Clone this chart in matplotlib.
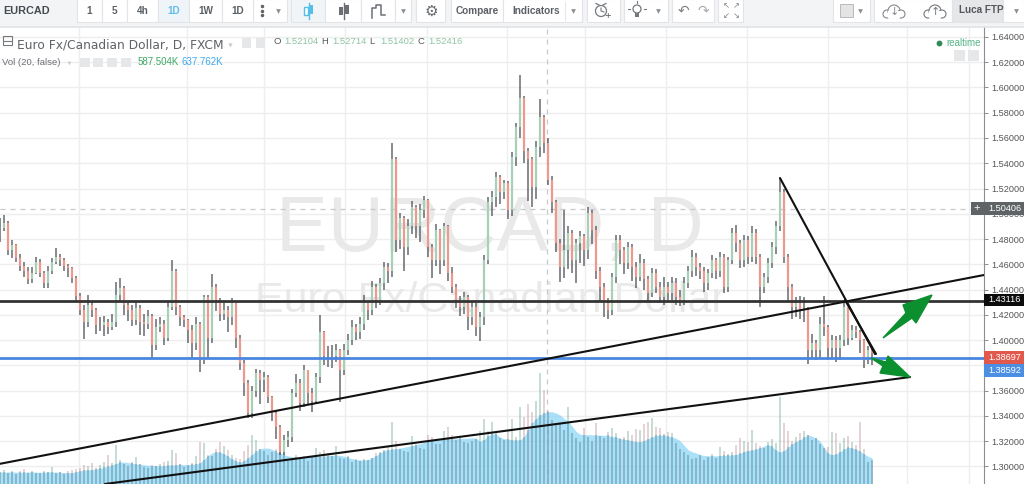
#!/usr/bin/env python3
# EURCAD daily chart screenshot, toolbar and all
import matplotlib
matplotlib.use('Agg')
import matplotlib.pyplot as plt
from matplotlib.patches import Rectangle, Polygon, Circle

closes = [
    1.489, 1.493, 1.471, 1.475, 1.465, 1.459, 1.455, 1.448, 1.453, 1.462,
    1.453, 1.445, 1.455, 1.462, 1.466, 1.463, 1.459, 1.457, 1.449, 1.435,
    1.424, 1.414, 1.428, 1.424, 1.412, 1.412, 1.414, 1.410, 1.414, 1.436,
    1.441, 1.428, 1.424, 1.416, 1.425, 1.414, 1.413, 1.419, 1.396, 1.410,
    1.413, 1.402, 1.426, 1.455, 1.426, 1.418, 1.416, 1.408, 1.398, 1.413,
    1.384, 1.434, 1.402, 1.442, 1.432, 1.421, 1.424, 1.418, 1.429, 1.402,
    1.382, 1.366, 1.342, 1.360, 1.374, 1.368, 1.371, 1.355, 1.342, 1.331,
    1.311, 1.321, 1.323, 1.358, 1.366, 1.350, 1.376, 1.358, 1.352, 1.371,
    1.406, 1.387, 1.387, 1.387, 1.392, 1.376, 1.392, 1.400, 1.410, 1.406,
    1.413, 1.429, 1.424, 1.442, 1.432, 1.445, 1.458, 1.455, 1.543, 1.479,
    1.497, 1.474, 1.490, 1.505, 1.490, 1.503, 1.511, 1.474, 1.463, 1.487,
    1.463, 1.490, 1.453, 1.442, 1.432, 1.426, 1.434, 1.418, 1.426, 1.410,
    1.418, 1.463, 1.509, 1.513, 1.529, 1.517, 1.524, 1.503, 1.545, 1.569,
    1.592, 1.550, 1.543, 1.521, 1.553, 1.577, 1.556, 1.527, 1.509, 1.477,
    1.458, 1.471, 1.485, 1.463, 1.477, 1.482, 1.471, 1.501, 1.487, 1.455,
    1.442, 1.429, 1.424, 1.450, 1.479, 1.471, 1.461, 1.474, 1.458, 1.450,
    1.461, 1.448, 1.437, 1.453, 1.442, 1.434, 1.442, 1.437, 1.445, 1.434,
    1.432, 1.445, 1.455, 1.466, 1.458, 1.455, 1.445, 1.453, 1.463, 1.455,
    1.466, 1.442, 1.463, 1.485, 1.477, 1.463, 1.479, 1.466, 1.485, 1.466,
    1.442, 1.450, 1.461, 1.474, 1.490, 1.517, 1.466, 1.442, 1.426, 1.429,
    1.424, 1.424, 1.392, 1.398, 1.392, 1.413, 1.410, 1.394, 1.400, 1.394,
    1.400, 1.426, 1.402, 1.408, 1.406, 1.400, 1.384, 1.392, 1.390,
]
highs = [
    1.497, 1.499, 1.494, 1.479, 1.476, 1.468, 1.462, 1.458, 1.458, 1.466,
    1.464, 1.455, 1.459, 1.465, 1.473, 1.468, 1.465, 1.460, 1.458, 1.451,
    1.437, 1.428, 1.436, 1.431, 1.425, 1.418, 1.419, 1.417, 1.421, 1.446,
    1.449, 1.443, 1.431, 1.428, 1.431, 1.428, 1.421, 1.424, 1.421, 1.417,
    1.418, 1.416, 1.431, 1.463, 1.456, 1.428, 1.420, 1.417, 1.412, 1.418,
    1.414, 1.436, 1.436, 1.452, 1.444, 1.433, 1.431, 1.427, 1.433, 1.431,
    1.404, 1.384, 1.368, 1.364, 1.377, 1.376, 1.375, 1.372, 1.356, 1.344,
    1.333, 1.325, 1.328, 1.361, 1.373, 1.369, 1.380, 1.376, 1.362, 1.374,
    1.420, 1.407, 1.395, 1.396, 1.397, 1.393, 1.397, 1.405, 1.416, 1.413,
    1.418, 1.436, 1.431, 1.447, 1.444, 1.449, 1.462, 1.461, 1.556, 1.545,
    1.501, 1.498, 1.496, 1.510, 1.507, 1.508, 1.514, 1.512, 1.476, 1.492,
    1.488, 1.493, 1.491, 1.458, 1.444, 1.435, 1.438, 1.436, 1.430, 1.429,
    1.422, 1.467, 1.513, 1.518, 1.533, 1.531, 1.527, 1.526, 1.549, 1.572,
    1.610, 1.593, 1.552, 1.545, 1.558, 1.591, 1.578, 1.560, 1.530, 1.511,
    1.480, 1.503, 1.490, 1.487, 1.480, 1.486, 1.484, 1.505, 1.503, 1.490,
    1.458, 1.445, 1.433, 1.453, 1.483, 1.483, 1.474, 1.478, 1.476, 1.462,
    1.468, 1.464, 1.451, 1.457, 1.456, 1.446, 1.450, 1.446, 1.450, 1.449,
    1.440, 1.450, 1.459, 1.471, 1.469, 1.461, 1.458, 1.456, 1.467, 1.465,
    1.470, 1.468, 1.466, 1.489, 1.491, 1.479, 1.483, 1.482, 1.490, 1.488,
    1.468, 1.453, 1.465, 1.478, 1.494, 1.528, 1.520, 1.468, 1.444, 1.434,
    1.435, 1.434, 1.426, 1.405, 1.400, 1.418, 1.435, 1.412, 1.404, 1.403,
    1.404, 1.430, 1.426, 1.412, 1.411, 1.408, 1.401, 1.395, 1.394,
]
lows = [
    1.478, 1.486, 1.467, 1.465, 1.462, 1.455, 1.450, 1.444, 1.445, 1.452,
    1.450, 1.441, 1.441, 1.452, 1.460, 1.459, 1.455, 1.450, 1.445, 1.431,
    1.420, 1.401, 1.410, 1.418, 1.405, 1.407, 1.403, 1.405, 1.408, 1.410,
    1.431, 1.420, 1.415, 1.411, 1.412, 1.404, 1.403, 1.409, 1.385, 1.392,
    1.406, 1.396, 1.399, 1.424, 1.420, 1.411, 1.410, 1.398, 1.385, 1.392,
    1.375, 1.381, 1.386, 1.398, 1.423, 1.415, 1.416, 1.406, 1.412, 1.394,
    1.376, 1.356, 1.338, 1.338, 1.355, 1.349, 1.359, 1.350, 1.336, 1.322,
    1.309, 1.309, 1.315, 1.319, 1.355, 1.344, 1.347, 1.349, 1.343, 1.349,
    1.366, 1.380, 1.379, 1.378, 1.383, 1.351, 1.372, 1.388, 1.396, 1.400,
    1.401, 1.408, 1.416, 1.420, 1.425, 1.428, 1.440, 1.445, 1.450, 1.470,
    1.472, 1.455, 1.467, 1.484, 1.481, 1.478, 1.497, 1.466, 1.449, 1.459,
    1.452, 1.459, 1.447, 1.437, 1.425, 1.419, 1.421, 1.408, 1.412, 1.403,
    1.399, 1.412, 1.460, 1.498, 1.505, 1.508, 1.512, 1.496, 1.498, 1.538,
    1.560, 1.540, 1.510, 1.505, 1.512, 1.545, 1.548, 1.523, 1.501, 1.470,
    1.446, 1.449, 1.456, 1.453, 1.445, 1.461, 1.459, 1.464, 1.476, 1.448,
    1.431, 1.418, 1.417, 1.420, 1.445, 1.460, 1.452, 1.456, 1.447, 1.441,
    1.447, 1.440, 1.430, 1.434, 1.437, 1.429, 1.428, 1.431, 1.432, 1.428,
    1.427, 1.428, 1.441, 1.450, 1.451, 1.448, 1.438, 1.440, 1.449, 1.448,
    1.450, 1.437, 1.438, 1.460, 1.470, 1.457, 1.458, 1.460, 1.462, 1.460,
    1.426, 1.437, 1.445, 1.457, 1.468, 1.486, 1.461, 1.431, 1.417, 1.418,
    1.417, 1.414, 1.381, 1.385, 1.384, 1.386, 1.403, 1.384, 1.386, 1.383,
    1.384, 1.395, 1.396, 1.400, 1.402, 1.390, 1.378, 1.381, 1.380,
]
# volume in thousands
volumes = [
    300, 340, 270, 310, 250, 330, 360, 260, 310, 280,
    270, 330, 300, 420, 260, 290, 240, 320, 340, 360,
    380, 470, 440, 520, 400, 460, 530, 710, 520, 960,
    600, 480, 440, 540, 660, 500, 420, 390, 470, 430,
    480, 530, 560, 830, 760, 500, 420, 470, 520, 690,
    1030, 1000, 720, 680, 860, 1030, 940, 840, 700, 640,
    620, 800, 960, 1200, 1080, 860, 820, 700, 780, 850,
    950, 800, 560, 640, 720, 620, 680, 570, 660, 880,
    780, 840, 760, 690, 920, 640, 610, 680, 550, 620,
    560, 620, 580, 640, 760, 780, 830, 900, 1520, 1050,
    860, 800, 790, 1180, 980, 880, 860, 1210, 1150, 970,
    980, 1310, 1390, 1200, 1090, 1120, 1040, 1000, 1060, 1100,
    1300, 1590, 1300, 1520, 1250, 1120, 1090, 1300, 1590, 1140,
    1880, 1640, 1950, 1770, 2040, 2720, 2300, 1780, 1560, 1450,
    1500, 1320, 1880, 1260, 1120, 1040, 1370, 1150, 1050, 1490,
    1180, 1130, 1270, 1380, 1240, 1120, 1150, 1300, 1210, 1340,
    1320, 1470, 1520, 1620, 1400, 1380, 1230, 1280, 1250, 1000,
    850, 780, 700, 620, 640, 700, 600, 650, 730, 640,
    900, 820, 730, 790, 950, 1120, 1060, 1020, 1330, 1000,
    920, 880, 1040, 1110, 1000, 2130, 1490, 1290, 1060, 1150,
    1240, 1300, 1200, 1080, 1120, 980, 870, 900, 1270, 1240,
    1000, 1120, 1180, 1020, 950, 1510, 850, 530, 590,
]
volume_ma = [
    290, 290, 295, 295, 290, 285, 290, 295, 295, 290,
    285, 285, 290, 295, 290, 285, 280, 275, 280, 295,
    320, 340, 345, 355, 365, 385, 405, 430, 460, 500,
    540, 535, 525, 505, 490, 480, 470, 460, 450, 445,
    440, 445, 455, 460, 470, 480, 475, 470, 480, 490,
    520, 600, 690, 760, 790, 780, 740, 680, 620, 570,
    530, 570, 640, 720, 800, 860, 880, 880, 850, 800,
    750, 720, 690, 670, 650, 650, 665, 680, 690, 680,
    670, 680, 695, 705, 710, 700, 680, 650, 620, 600,
    590, 585, 600, 640, 690, 760, 810, 840, 850, 860,
    880, 900, 920, 940, 960, 990, 1020, 1050, 1070, 1080,
    1085, 1090, 1100, 1105, 1110, 1115, 1120, 1125, 1130, 1130,
    1040, 1090, 1180, 1230, 1220, 1150, 1110, 1100, 1080, 1075,
    1080, 1150, 1330, 1500, 1600, 1690, 1740, 1770, 1770, 1740,
    1690, 1610, 1530, 1420, 1290, 1220, 1210, 1210, 1205, 1200,
    1195, 1195, 1190, 1160, 1150, 1110, 1095, 1080, 1060, 1040,
    1030, 1060, 1110, 1150, 1190, 1200, 1190, 1170, 1150, 1120,
    1060, 950, 840, 790, 760, 720, 700, 690, 690, 690,
    695, 700, 705, 710, 720, 750, 790, 820, 830, 850,
    890, 930, 960, 920, 830, 780, 820, 900, 980, 1040,
    1080, 1150, 1200, 1170, 1120, 1050, 900, 760, 720, 730,
    790, 850, 900, 880, 850, 800, 740, 680, 640,
]

price_ticks = [1.64, 1.62, 1.60, 1.58, 1.56, 1.54, 1.52, 1.50, 1.48, 1.46,
               1.44, 1.42, 1.40, 1.36, 1.34, 1.32, 1.30]
# 1.38 is under the last price tags, so only its grid line shows
grid_levels = price_ticks + [1.38]
grid_bars = [19.75, 46.75, 66, 86.25, 106.75, 126.75, 146.25, 166.5, 186.75, 207, 226.75, 242.25]
support_level = 1.38592
resistance_level = 1.43116
last_level = 1.38697
crosshair_level = 1.50406
crosshair_bar = 136.75
# hand drawn lines on the chart, (bar, price) ends
trend_lines = [
    ([0, 246], [1.302, 1.4515]),
    ([26.25, 227.5], [1.286, 1.3707]),
    ([195, 218.75], [1.5283, 1.3889]),
    ([211.25, 219], [1.4317, 1.389]),
]

WIDTH, HEIGHT = 1024, 484
AXIS_X, TOP_Y = 984, 27
PRICE_LOW, PRICE_HIGH = 1.2860, 1.6479

fig = plt.figure(figsize=(WIDTH / 100, HEIGHT / 100), dpi=100, facecolor='white')
plt.rcParams['font.family'] = ['Liberation Sans', 'DejaVu Sans']

# three layers: grid and watermark, then volume, then candles and drawings
ax = fig.add_axes([0, 0, AXIS_X / WIDTH, (HEIGHT - TOP_Y) / HEIGHT])
vol_ax = ax.twinx()
price_ax = ax.twinx()
ax.set_xlim(0, AXIS_X / 4)
ax.set_ylim(PRICE_LOW, PRICE_HIGH)
price_ax.set_ylim(PRICE_LOW, PRICE_HIGH)
vol_ax.set_ylim(0, (HEIGHT - TOP_Y) * 24.5)
vol_ax.axis('off')
price_ax.axis('off')
for side in ['top', 'left', 'bottom']:
    ax.spines[side].set_visible(False)
ax.spines['right'].set_color('#8a8e94')
ax.yaxis.tick_right()
ax.set_yticks(price_ticks)
ax.set_yticklabels(['%.5f' % t for t in price_ticks], fontsize=6.6, color='#555555')
ax.tick_params(axis='y', length=3, width=0.7, color='#8a8e94', pad=2)
ax.set_xticks([])
for t in grid_levels:
    ax.axhline(t, color='#eeeeef', lw=1, zorder=0)
for b in grid_bars:
    ax.axvline(b, color='#eeeeef', lw=1, zorder=0)

# watermark sits behind the candles
ax.text(122.5, 1.4865, 'EURCAD, D', fontsize=56, color='#e9e9ea', ha='center', va='center', zorder=1)
ax.text(122.5, 1.431, 'Euro Fx/Canadian Dollar', fontsize=31, color='#e9e9ea', ha='center', va='center', zorder=1)

ax.axhline(crosshair_level, color='#c6c8cb', lw=0.9, ls=(0, (4, 4)), zorder=1)
ax.axvline(crosshair_bar, color='#c6c8cb', lw=0.9, ls=(0, (4, 4)), zorder=1)

bars = list(range(len(closes)))
opens = [closes[0]] + closes[:-1]
up = [c >= o for c, o in zip(closes, opens)]

# bars stay pale above the average line and go teal where the blue area covers them
vol_colors = ['#5a9e8c' if u else '#b5838a' for u in up]
vol_ax.bar(bars, volumes, width=0.7, color=vol_colors, alpha=0.35, lw=0, zorder=2)
vol_ax.fill_between(bars, volume_ma, color='#7fd0f7', alpha=0.65, lw=0, zorder=3)
covered = [min(v, m) for v, m in zip(volumes, volume_ma)]
vol_ax.bar(bars, covered, width=0.7, color='#5f8fa0', alpha=0.4, lw=0, zorder=4)

# candles
price_ax.vlines(bars, lows, highs, color='#4c5054', lw=1.1, alpha=0.85, zorder=4)
body_colors = ['#a8cfb8' if u else '#ec9a90' for u in up]
price_ax.vlines(bars, opens, closes, color=body_colors, lw=1.6, zorder=5)

price_ax.axhline(resistance_level, color='#333333', lw=2.0, zorder=6)
price_ax.axhline(support_level, color='#4a86e0', lw=2.0, zorder=6)
for line_x, line_y in trend_lines:
    price_ax.plot(line_x, line_y, color='#111111', lw=1.5, zorder=7, solid_capstyle='round')

# screen overlay in pixels: toolbar, header text, arrows, price tags
top = fig.add_axes([0, 0, 1, 1], facecolor='none')
top.set_zorder(10)
top.set_xlim(0, WIDTH)
top.set_ylim(HEIGHT, 0)
top.axis('off')

ARROW_GREEN = '#0b8f2f'
top.add_patch(Polygon([(883, 338), (906, 313), (903, 305), (932, 295), (916, 323), (912, 318)],
                      color=ARROW_GREEN, zorder=8))
top.add_patch(Polygon([(871, 358), (886, 362), (888, 356), (910, 377), (880, 373), (883, 366)],
                      color=ARROW_GREEN, zorder=8))


def tag(y0, y1, color, label, x0=984):
    top.add_patch(Rectangle((x0, y0), WIDTH - x0, y1 - y0, color=color, lw=0, zorder=9))
    top.text(1005, (y0 + y1) / 2, label, color='white', fontsize=6.6, ha='center', va='center', zorder=10)


tag(202, 215, '#606366', '1.50406', x0=971)
top.text(977, 208.5, '+', color='white', fontsize=8, ha='center', va='center', zorder=10)
tag(294, 306, '#0c0c0c', '%.5f' % resistance_level)
tag(351, 364, '#e0594c', '%.5f' % last_level)
tag(364, 377, '#4a8fe4', '%.5f' % support_level)

# toolbar
top.add_patch(Rectangle((0, 0), WIDTH, 26, color='#f3f4f6', lw=0))
top.plot([0, WIDTH], [26.5, 26.5], color='#dfe1e4', lw=1.2)


def button(x0, x1, fill='white', y1=22):
    top.add_patch(Rectangle((x0, -1), x1 - x0, y1 + 1, facecolor=fill, edgecolor='#e2e4e7', lw=0.8))


def arrow_down(x, y=11):
    top.plot([x], [y], marker='v', ms=3.4, color='#8b8f94', mew=0)


def cloud(x, arrow, color):
    for dx, dy, r in [(-7, 3, 4), (0, 0, 6), (7, 3, 4)]:
        top.add_patch(Circle((x + dx, 11 + dy), r, facecolor='white', edgecolor=color, lw=0.8))
    top.add_patch(Rectangle((x - 6, 11), 12, 6.5, color='white', lw=0))
    top.text(x, 12, arrow, fontsize=8, ha='center', va='center', color=color, family='DejaVu Sans')


top.text(3, 11, 'EURCAD', fontsize=7.8, fontweight='bold', color='#454a50', va='center')
button(77, 287)
for x0, x1, label in [(77, 102, '1'), (102, 127, '5'), (127, 158, '4h'), (158, 189, '1D'),
                      (189, 222, '1W'), (222, 253, '1D')]:
    if label == '1D' and x0 == 158:
        button(x0, x1, fill='#eef4f8')
    else:
        button(x0, x1)
    top.text((x0 + x1) / 2, 10.5, label, fontsize=7.2, fontweight='bold', ha='center', va='center',
             color='#63bde6' if x0 == 158 else '#5b6066')
top.plot([262, 262, 262], [6, 11, 15], ls='', marker='o', ms=1.5, color='#60656a')
arrow_down(278)

button(291, 325, fill='#f1f5f8')
button(325, 361)
button(361, 395)
button(395, 411)
arrow_down(403)
top.plot([309, 309], [3, 19], color='#54bde8', lw=1)
top.add_patch(Rectangle((304, 7), 3.5, 8, facecolor='white', edgecolor='#54bde8', lw=1))
top.add_patch(Rectangle((309.5, 5), 3.5, 9, color='#54bde8', lw=0))
top.plot([344, 344], [3, 19], color='#6b6f74', lw=1)
top.add_patch(Rectangle((338.5, 7), 4, 8, color='#6b6f74', lw=0))
top.add_patch(Rectangle((345, 5), 4, 9, color='#6b6f74', lw=0))
top.plot([372, 372, 376, 376, 381, 381, 385], [18, 8, 8, 5, 5, 15, 15], color='#6b6f74', lw=1.1)
button(416, 445)
top.text(431, 11, '\u2699', fontsize=11, ha='center', va='center', color='#666a6f', family='DejaVu Sans')
button(451, 503)
top.text(477, 10.5, 'Compare', fontsize=7.2, fontweight='bold', ha='center', va='center', color='#5b6066')
button(503, 582)
top.text(536, 10.5, 'Indicators', fontsize=7.2, fontweight='bold', ha='center', va='center', color='#5b6066')
top.plot([565, 565], [2, 20], color='#e6e7ea', lw=0.8)
arrow_down(573)
button(587, 620)
# alarm clock with a plus
top.add_patch(Circle((601, 11), 5.5, facecolor='white', edgecolor='#75797e', lw=0.9))
top.plot([601, 601, 604], [8, 11, 12], color='#75797e', lw=0.8)
top.plot([596, 599], [3.5, 5], color='#75797e', lw=0.9)
top.plot([603, 606], [5, 3.5], color='#75797e', lw=0.9)
top.text(608, 15.5, '+', fontsize=8, ha='center', va='center', color='#55595e')
button(624, 668)
# light bulb
top.add_patch(Circle((637, 9), 4, facecolor='white', edgecolor='#75797e', lw=0.9))
top.add_patch(Rectangle((635, 13), 4, 4, color='#75797e', lw=0))
top.plot([630, 628], [9, 9], color='#75797e', lw=0.8)
top.plot([644, 646], [9, 9], color='#75797e', lw=0.8)
top.plot([637, 637], [2.5, 0.5], color='#75797e', lw=0.8)
arrow_down(658)
button(672, 714)
top.text(683, 11, '\u21b6', fontsize=10, ha='center', va='center', color='#7d8185', family='DejaVu Sans')
top.text(703, 11, '\u21b7', fontsize=10, ha='center', va='center', color='#a8abae', family='DejaVu Sans')
button(718, 743)
# fullscreen corners
for cx, cy, mark in [(726, 6, '\u2196'), (736, 6, '\u2197'), (726, 16, '\u2199'), (736, 16, '\u2198')]:
    top.text(cx, cy, mark, fontsize=6, ha='center', va='center', color='#7d8185', family='DejaVu Sans')
button(833, 870)
top.add_patch(Rectangle((840, 4), 13, 13, facecolor='#e4e4e4', edgecolor='#b8babd', lw=0.7))
arrow_down(860)
button(874, 952)
cloud(894, '\u2193', '#85898d')
cloud(935, '\u2191', '#75797e')
button(952, 1003, fill='#e6e7e9')
top.text(981, 10, 'Luca FTP', fontsize=7.2, fontweight='bold', ha='center', va='center', color='#55595e')
button(1003, 1024)
arrow_down(1016)

# legend lines top left
top.add_patch(Rectangle((2.5, 36), 9, 9, facecolor='none', edgecolor='#777b80', lw=0.8))
top.plot([4, 10.5], [40.5, 40.5], color='#777b80', lw=0.8)
top.text(17, 44.5, 'Euro Fx/Canadian Dollar, D, FXCM', fontsize=8.8, color='#5f6368', va='center',
         family=['DejaVu Sans'])
top.plot([230], [44.5], marker='v', ms=3, color='#c9cbce', mew=0)
for x0 in [242, 256]:
    top.add_patch(Rectangle((x0, 38), 9, 10, color='#e6e7e8', lw=0))
x_pos = 273
for letter, value in [('O', '1.52104'), ('H', '1.52714'), ('L', '1.51402'), ('C', '1.52416')]:
    top.text(x_pos, 41.5, letter, fontsize=6.8, color='#55595e', va='center')
    top.text(x_pos + 11, 41.5, value, fontsize=6.8, color='#8fc3a4', va='center')
    x_pos += 48
top.text(2, 62.5, 'Vol (20, false)', fontsize=6.8, color='#6b6f74', va='center')
top.plot([69], [62.5], marker='v', ms=2.6, color='#c9cbce', mew=0)
for x0 in [80, 93, 107, 121]:
    top.add_patch(Rectangle((x0, 58), 10, 9, color='#e6e7e8', lw=0))
top.text(138, 62, '587.504K', fontsize=7, color='#3da864', va='center')
top.text(182, 62, '637.762K', fontsize=7, color='#3fa9ee', va='center')
top.plot([939], [42.5], marker='o', ms=4.2, color='#2e8b57', mew=0)
top.text(946, 42.5, 'realtime', fontsize=7, color='#57b488', va='center')
for x0 in [954, 968]:
    top.add_patch(Rectangle((x0, 49.5), 11, 11, color='#e6e7e8', lw=0))

fig.savefig('out.png', dpi=100)
